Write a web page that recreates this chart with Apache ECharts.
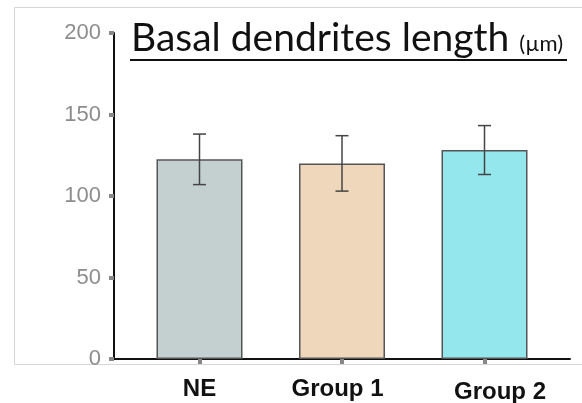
<!DOCTYPE html>
<html>
<head>
<meta charset="utf-8">
<script src="https://cdn.jsdelivr.net/npm/echarts@6/dist/echarts.min.js"></script>
<style>
  html, body { margin: 0; padding: 0; background: #fff; }
  #chart { width: 582px; height: 403px; }
</style>
</head>
<body>
<div id="chart"></div>
<script>
// Basal dendrite length per group (µm), mean ± error
const categories = ['NE', 'Group 1', 'Group 2'];
const positions = [1, 2, 3];
const means = [122.5, 120, 128.2];
const errors = [15.5, 17, 15];
const barColors = ['#c4d0cf', '#eed7bb', '#95e7ee'];
const yTicks = [0, 50, 100, 150, 200];

const chart = echarts.init(document.getElementById('chart'));

const barData = positions.map((x, i) => ({
  value: [x, means[i]],
  itemStyle: { color: barColors[i] }
}));
const errData = positions.map((x, i) => [x, means[i] - errors[i], means[i] + errors[i]]);

const labelStyles = ['ne', 'g1', 'g2'];
const catFont = { fontFamily: 'Liberation Sans', fontWeight: 'bold', fontSize: 24, color: '#111' };

chart.setOption({
  animation: false,
  backgroundColor: '#fff',
  grid: { left: 114, right: 12, top: 33, bottom: 44, containLabel: false, outerBoundsMode: 'none' },
  title: {
    left: 126, top: 14,
    text: '{a|Basal dendrites length} {b|(µm)}',
    textStyle: {
      fontWeight: 'normal',
      rich: {
        a: { fontFamily: 'Lato', fontWeight: 'normal', fontSize: 39, color: '#111', verticalAlign: 'bottom' },
        b: { fontFamily: 'Lato', fontWeight: 'normal', fontSize: 22, color: '#111', verticalAlign: 'bottom', padding: [0, 0, 3, 5] }
      }
    }
  },
  xAxis: {
    type: 'value', min: 0.4, max: 3.6,
    splitLine: { show: false },
    axisLine: { show: true, onZero: false, lineStyle: { color: '#111', width: 2 } },
    axisTick: { show: true, customValues: positions, length: 5, lineStyle: { color: '#888', width: 4 } },
    axisLabel: {
      customValues: positions, margin: 18,
      formatter: v => {
        const i = positions.indexOf(Math.round(v));
        return '{' + labelStyles[i] + '|' + categories[i] + '}';
      },
      rich: {
        ne: Object.assign({}, catFont),
        g1: Object.assign({}, catFont, { padding: [0, 9, 0, 0] }),
        g2: Object.assign({}, catFont, { padding: [3, 0, 0, 31] })
      }
    }
  },
  yAxis: {
    type: 'value', min: 0, max: 200, interval: 50,
    splitLine: { show: false },
    axisLine: { show: true, lineStyle: { color: '#111', width: 2 } },
    axisTick: { show: true, length: 5, lineStyle: { color: '#888', width: 4 } },
    axisLabel: {
      margin: 13, color: '#8d8d8d', fontSize: 22, fontFamily: 'Liberation Sans',
      customValues: yTicks
    }
  },
  graphic: [
    {
      type: 'rect', z: -10, silent: true,
      shape: { x: 14.5, y: 7.5, width: 620, height: 357 },
      style: { fill: 'none', stroke: '#d6d6d6', lineWidth: 1 }
    },
    {
      type: 'line', silent: true,
      shape: { x1: 130, y1: 60, x2: 567, y2: 60 },
      style: { stroke: '#111', lineWidth: 2 }
    }
  ],
  series: [
    {
      type: 'bar',
      data: barData,
      barWidth: 86,
      itemStyle: { borderColor: '#555', borderWidth: 1.5 }
    },
    {
      type: 'custom',
      data: errData,
      z: 10,
      renderItem: (params, api) => {
        const x = api.value(0);
        const lo = api.coord([x, api.value(1)]);
        const hi = api.coord([x, api.value(2)]);
        const hw = 6.5;
        const style = { stroke: '#444', lineWidth: 1.5 };
        return {
          type: 'group',
          children: [
            { type: 'line', shape: { x1: lo[0], y1: lo[1], x2: hi[0], y2: hi[1] }, style },
            { type: 'line', shape: { x1: lo[0] - hw, y1: lo[1], x2: lo[0] + hw, y2: lo[1] }, style },
            { type: 'line', shape: { x1: hi[0] - hw, y1: hi[1], x2: hi[0] + hw, y2: hi[1] }, style }
          ]
        };
      }
    }
  ]
});
</script>
</body>
</html>
